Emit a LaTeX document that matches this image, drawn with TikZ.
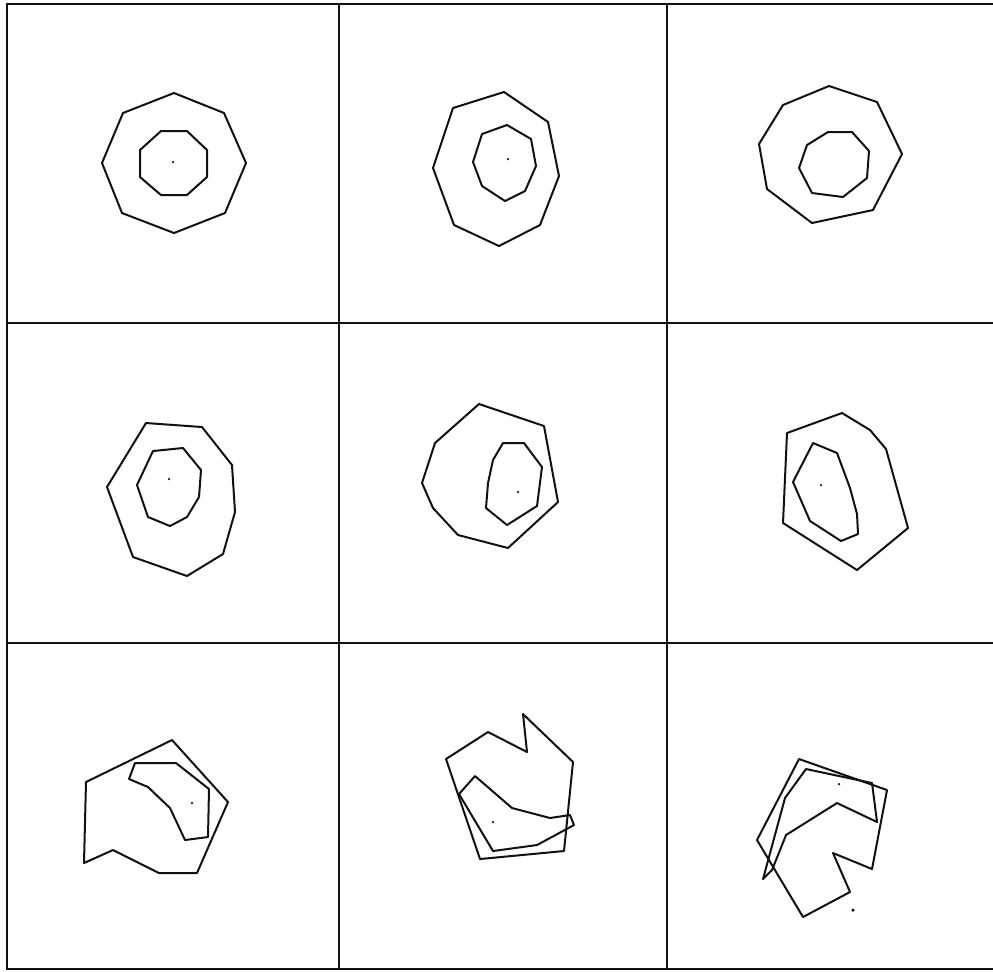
\documentclass[tikz,border=0pt]{standalone}
\usepackage{tikz}
\definecolor{plotInk}{HTML}{111111}
\tikzset{
  plot frame/.style={draw=plotInk, line width=0.16mm},
  plot ring/.style={draw=plotInk, line width=0.2mm, line join=round},
  plot dot/.style={fill=plotInk, circle, inner sep=0pt, minimum size=0.25mm}
}
\begin{document}
\begin{tikzpicture}[x=0.1mm, y=-0.1mm]
  \useasboundingbox (0,0) rectangle (993,971);
  % frame and grid
  \draw[plot frame] (993,4) -- (7,4) -- (7,969) -- (993,969);
  \draw[plot frame] (339,4) -- (339,969);
  \draw[plot frame] (667,4) -- (667,969);
  \draw[plot frame] (7,323) -- (993,323);
  \draw[plot frame] (7,643) -- (993,643);
  % row 1
  \draw[plot ring] (174,93) -- (224,113) -- (246,163) -- (225,213) -- (174,233)
    -- (122,213) -- (102,163) -- (123,113) -- cycle;
  \draw[plot ring] (161,131) -- (187,131) -- (207,150) -- (207,177) -- (187,195)
    -- (161,195) -- (140,177) -- (140,150) -- cycle;
  \node[plot dot] (c1) at (173,162) {};
  \draw[plot ring] (504,92) -- (548,122) -- (559,176) -- (540,225) -- (499,246)
    -- (454,225) -- (433,168) -- (453,108) -- cycle;
  \draw[plot ring] (507,125) -- (531,139) -- (536,166) -- (525,191) -- (505,201)
    -- (482,186) -- (473,162) -- (482,134) -- cycle;
  \node[plot dot] (c2) at (508,159) {};
  \draw[plot ring] (829,86) -- (877,102) -- (902,154) -- (873,210) -- (812,223)
    -- (767,189) -- (759,144) -- (783,105) -- cycle;
  \draw[plot ring] (828,132) -- (852,132) -- (869,151) -- (867,178) -- (843,197)
    -- (812,193) -- (799,168) -- (807,145) -- cycle;
  % row 2
  \draw[plot ring] (146,423) -- (202,427) -- (232,465) -- (235,512) -- (223,554)
    -- (187,576) -- (133,557) -- (107,487) -- cycle;
  \draw[plot ring] (153,451) -- (183,448) -- (201,470) -- (199,497) -- (187,517)
    -- (170,526) -- (148,517) -- (137,485) -- cycle;
  \node[plot dot] (c4) at (169,479) {};
  \draw[plot ring] (479,404) -- (544,426) -- (558,502) -- (508,548) -- (458,535)
    -- (433,508) -- (422,483) -- (435,443) -- cycle;
  \draw[plot ring] (503,443) -- (524,443) -- (542,467) -- (537,506) -- (507,525)
    -- (486,508) -- (488,483) -- (493,460) -- cycle;
  \node[plot dot] (c5) at (518,492) {};
  \draw[plot ring] (842,413) -- (870,430) -- (886,449) -- (908,528) -- (857,570)
    -- (783,523) -- (787,433) -- cycle;
  \draw[plot ring] (813,443) -- (837,453) -- (850,488) -- (857,514) -- (858,534)
    -- (841,541) -- (810,521) -- (793,482) -- cycle;
  \node[plot dot] (c6) at (821,485) {};
  % row 3
  \draw[plot ring] (172,740) -- (228,802) -- (197,873) -- (159,873) -- (113,850)
    -- (84,863) -- (86,782) -- cycle;
  \draw[plot ring] (135,763) -- (176,763) -- (209,789) -- (208,837) -- (185,840)
    -- (170,808) -- (148,787) -- (129,779) -- cycle;
  \node[plot dot] (c7) at (192,803) {};
  \draw[plot ring] (446,759) -- (488,732) -- (527,752) -- (523,714) -- (573,762)
    -- (564,851) -- (480,859) -- cycle;
  \draw[plot ring] (475,776) -- (512,808) -- (550,818) -- (570,815) -- (574,825)
    -- (537,845) -- (493,851) -- (459,794) -- cycle;
  \node[plot dot] (c8) at (493,822) {};
  \draw[plot ring] (799,759) -- (887,790) -- (872,869) -- (833,853) -- (850,892)
    -- (803,917) -- (757,840) -- cycle;
  \draw[plot ring] (806,769) -- (872,783) -- (877,822) -- (837,803) -- (786,835)
    -- (772,870) -- (763,879) -- (785,798) -- cycle;
  \node[plot dot] (c9) at (839,784) {};
  \node[plot dot, minimum size=0.35mm] (s9) at (853,910) {};
\end{tikzpicture}
\end{document}
